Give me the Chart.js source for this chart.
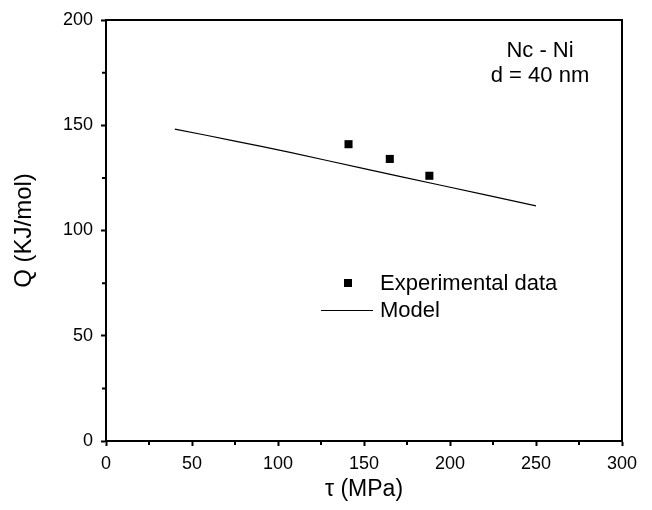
<!DOCTYPE html>
<html>
<head>
<meta charset="utf-8">
<script src="https://cdn.jsdelivr.net/npm/chart.js@4"></script>
<style>
  html, body { margin: 0; padding: 0; background: #fff; }
  canvas { display: block; }
</style>
</head>
<body>
<canvas id="grafico" width="652" height="510"></canvas>
<script>
// Dados
const tauExp = [141, 165, 188];
const qExp = [141, 134, 126];
const tauModelo = [40, 75, 107, 150, 194, 250];
const qModelo = [148.2, 142.5, 137.1, 129.4, 121.6, 111.7];
const ticksX = [0, 50, 100, 150, 200, 250, 300];
const ticksY = [0, 50, 100, 150, 200];
const menoresX = [25, 75, 125, 175, 225, 275];
const menoresY = [25, 75, 125, 175];
const legendaTextos = ['Experimental data', 'Model'];
const anotacao = ['Nc - Ni', 'd = 40 nm'];

const FONTE = 'Arial, "Liberation Sans", sans-serif';

// Moldura, ticks menores, legenda e anotação
const extras = {
  id: 'extras',
  afterDraw(chart) {
    const { ctx, chartArea: a, scales } = chart;
    ctx.save();
    ctx.strokeStyle = '#000';
    ctx.lineWidth = 2;
    ctx.beginPath();
    ctx.moveTo(a.left, a.top);
    ctx.lineTo(a.right, a.top);
    ctx.lineTo(a.right, a.bottom);
    ctx.stroke();

    // ticks menores
    ctx.beginPath();
    menoresX.forEach((v) => {
      const x = scales.x.getPixelForValue(v);
      ctx.moveTo(x, a.bottom);
      ctx.lineTo(x, a.bottom + 4);
    });
    menoresY.forEach((v) => {
      const y = scales.y.getPixelForValue(v);
      ctx.moveTo(a.left, y);
      ctx.lineTo(a.left - 4, y);
    });
    ctx.stroke();

    // legenda
    ctx.fillStyle = '#000';
    ctx.fillRect(344, 279, 8, 8);
    ctx.lineWidth = 1;
    ctx.beginPath();
    ctx.moveTo(321, 310.5);
    ctx.lineTo(373, 310.5);
    ctx.stroke();
    ctx.font = '22px ' + FONTE;
    ctx.textAlign = 'left';
    ctx.textBaseline = 'alphabetic';
    ctx.fillText(legendaTextos[0], 380, 290);
    ctx.fillText(legendaTextos[1], 380, 317);

    // anotação
    ctx.textAlign = 'center';
    ctx.fillText(anotacao[0], 540, 57);
    ctx.fillText(anotacao[1], 540, 82);
    ctx.restore();
  }
};

const ctx = document.getElementById('grafico').getContext('2d');
new Chart(ctx, {
  type: 'scatter',
  data: {
    datasets: [
      {
        label: legendaTextos[0],
        data: tauExp.map((t, i) => ({ x: t, y: qExp[i] })),
        pointStyle: 'rect',
        pointRadius: 5.7,
        pointHoverRadius: 5.7,
        backgroundColor: '#000',
        borderWidth: 0,
        showLine: false
      },
      {
        label: legendaTextos[1],
        data: tauModelo.map((t, i) => ({ x: t, y: qModelo[i] })),
        showLine: true,
        borderColor: '#000',
        borderWidth: 1.2,
        pointRadius: 0,
        tension: 0.3,
        fill: false
      }
    ]
  },
  options: {
    responsive: false,
    animation: false,
    devicePixelRatio: 1,
    layout: { padding: { top: 20, right: 30, left: 0, bottom: 0 } },
    plugins: {
      legend: { display: false },
      tooltip: { enabled: false }
    },
    scales: {
      x: {
        type: 'linear',
        min: 0,
        max: 300,
        afterBuildTicks: (s) => { s.ticks = ticksX.map((v) => ({ value: v })); },
        afterFit: (s) => { s.height = 69; },
        ticks: { color: '#000', font: { family: FONTE, size: 18 }, padding: 7, maxRotation: 0, autoSkip: false },
        grid: { drawOnChartArea: false, tickLength: 5, tickWidth: 2, tickColor: '#000' },
        border: { display: true, color: '#000', width: 2 },
        title: { display: true, text: 'τ (MPa)', color: '#000', font: { family: FONTE, size: 23 }, padding: { top: 0, bottom: 7 } }
      },
      y: {
        type: 'linear',
        min: 0,
        max: 200,
        afterBuildTicks: (s) => { s.ticks = ticksY.map((v) => ({ value: v })); },
        afterFit: (s) => { s.width = 106; },
        ticks: { color: '#000', font: { family: FONTE, size: 18 }, padding: 8, autoSkip: false },
        grid: { drawOnChartArea: false, tickLength: 5, tickWidth: 2, tickColor: '#000' },
        border: { display: true, color: '#000', width: 2 },
        title: { display: true, text: 'Q (KJ/mol)', color: '#000', font: { family: FONTE, size: 24 }, padding: { top: 10, bottom: 0 } }
      }
    }
  },
  plugins: [extras]
});
</script>
</body>
</html>
